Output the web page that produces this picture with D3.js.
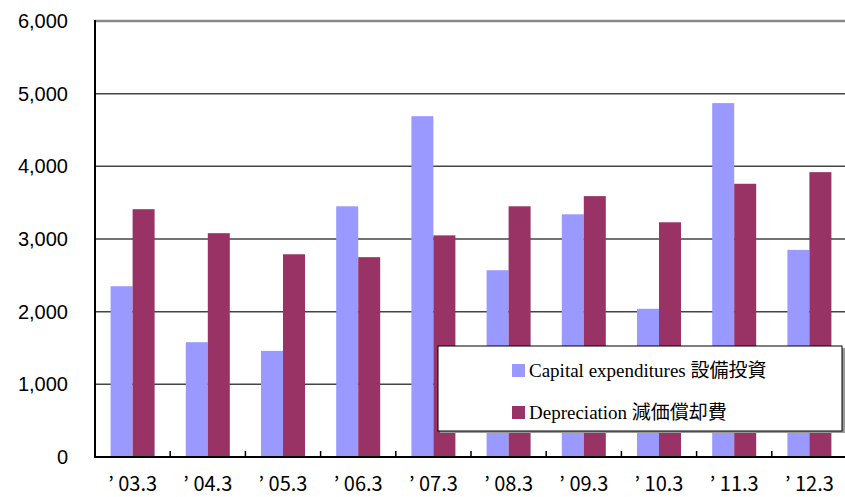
<!DOCTYPE html>
<html><head><meta charset="utf-8">
<script src="https://cdn.jsdelivr.net/npm/d3@7"></script>
<style>html,body{margin:0;padding:0;background:#fff;overflow:hidden}</style>
</head><body>
<svg id="c" width="845" height="497"></svg>
<script>
const categories = ["03.3","04.3","05.3","06.3","07.3","08.3","09.3","10.3","11.3","12.3"];
const capex = [2350,1580,1460,3450,4690,2570,3340,2040,4870,2850];
const depreciation = [3410,3080,2790,2750,3050,3450,3590,3230,3760,3920];
const yTicks = [0,1000,2000,3000,4000,5000,6000];
const seriesNames = ["Capital expenditures 設備投資","Depreciation 減価償却費"];
const colors = ["#9999FF","#993366"];

(function(){
const svg = d3.select("#c");
const mL = 95, mR = 847, mT = 21, mB = 457;
const x = d3.scaleBand().domain(categories).range([mL, mR]).paddingInner(0.415).paddingOuter(0.2075);
const xs = d3.scaleBand().domain([0,1]).range([0, x.bandwidth()]);
const y = d3.scaleLinear().domain([0,6000]).range([mB, mT]);

// gridlines
svg.append("g").selectAll("line").data(yTicks.filter(d=>d>0)).join("line")
  .attr("x1", mL).attr("x2", 845).attr("y1", d=>y(d)).attr("y2", d=>y(d))
  .attr("stroke", d=>d===6000?"#888":"#444").attr("stroke-width", d=>d===6000?2.5:1.5);

// bars
const data = categories.map((c,i)=>({c, v:[capex[i], depreciation[i]]}));
const g = svg.append("g");
g.selectAll("g").data(data).join("g")
  .attr("transform", d=>`translate(${x(d.c)},0)`)
  .selectAll("rect").data(d=>d.v.map((v,k)=>({v,k}))).join("rect")
  .attr("x", d=>xs(d.k)).attr("width", xs.bandwidth())
  .attr("y", d=>y(d.v)).attr("height", d=>mB - y(d.v))
  .attr("fill", d=>colors[d.k]);

// y axis
const yAxis = d3.axisLeft(y).tickValues(yTicks).tickFormat(d3.format(",")).tickSize(0).tickPadding(27);
const ya = svg.append("g").attr("transform", `translate(${mL},0)`).call(yAxis);
ya.select(".domain").remove();
ya.selectAll("text").attr("font-family","Liberation Sans, Arial, sans-serif").attr("font-size",20).attr("fill","#000");
svg.append("line").attr("x1",mL).attr("x2",mL).attr("y1",mT-1).attr("y2",mB+1).attr("stroke","#000").attr("stroke-width",2);

// x axis
const step = x.step();
svg.append("line").attr("x1",mL).attr("x2",845).attr("y1",mB).attr("y2",mB).attr("stroke","#000").attr("stroke-width",2);
svg.append("g").selectAll("line").data(categories.slice(1)).join("line")
  .attr("x1", d=>x(d)-x.paddingInner()*step/2).attr("x2", d=>x(d)-x.paddingInner()*step/2)
  .attr("y1", mB).attr("y2", mB-6).attr("stroke","#000").attr("stroke-width",1.5);
const xa = svg.append("g").attr("transform", `translate(0,${mB})`)
  .call(d3.axisBottom(x).tickSize(0).tickPadding(0).tickFormat(d=>"’ "+d));
xa.select(".domain").remove();
xa.selectAll("text").attr("dy", null).attr("y", 34).attr("font-family","Noto Sans CJK JP, sans-serif").attr("font-size",20).attr("fill","#000").style("white-space","pre");

// legend
const lg = svg.append("g");
lg.append("rect").attr("x",440).attr("y",348).attr("width",405).attr("height",85).attr("fill","#999");
lg.append("rect").attr("x",438).attr("y",346).attr("width",404).attr("height",85).attr("fill","#fff").attr("stroke","#000").attr("stroke-width",1);
seriesNames.forEach((n,i)=>{
  const yy = 364 + i*42;
  lg.append("rect").attr("x",512).attr("y",yy).attr("width",13).attr("height",13).attr("fill",colors[i]);
  lg.append("text").attr("x",529).attr("y",yy+13).text(n)
    .attr("font-family","Liberation Serif, 'Noto Sans CJK JP', serif").attr("font-size",19).attr("fill","#000");
});
})();
</script>
</body></html>
